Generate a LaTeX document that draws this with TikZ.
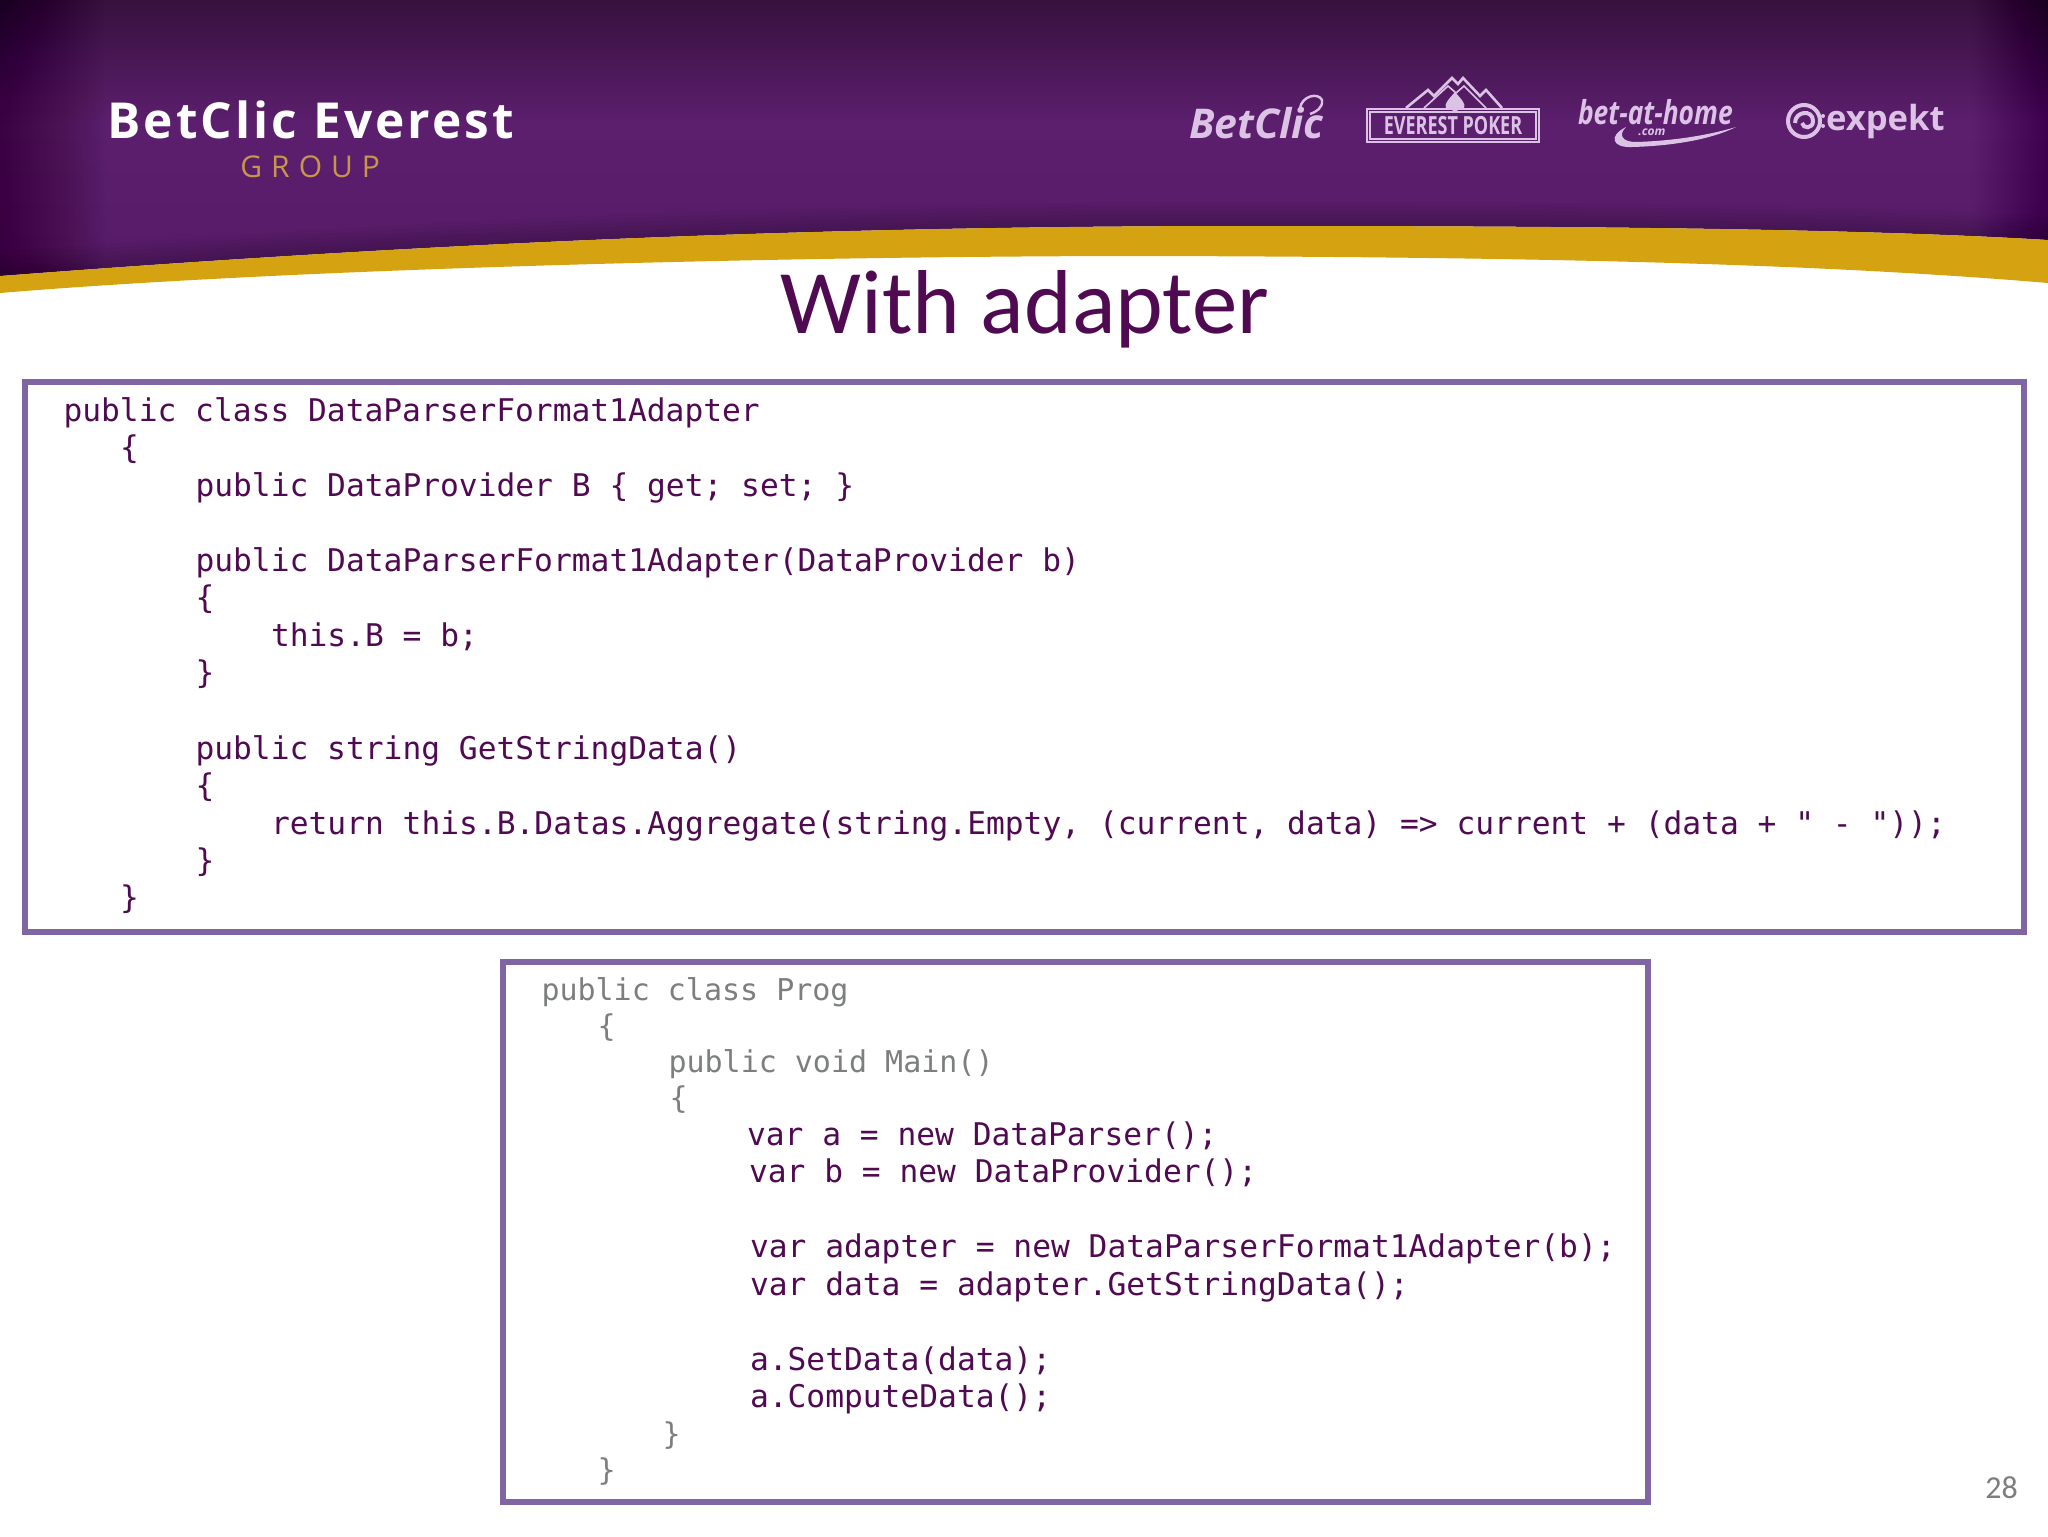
\documentclass[tikz,border=0pt]{standalone}
\usepackage{fontspec}
\setmainfont{Carlito}
\newfontfamily\codefont{DejaVu Sans Mono}
\newfontfamily\logofont[LetterSpace=6.2]{Open Sans}
\newfontfamily\groupfont[LetterSpace=30]{Open Sans}
\newfontfamily\brandfont{Open Sans}
\newfontfamily\evfont[FakeStretch=0.72]{Open Sans}
\newfontfamily\homefont[FakeStretch=0.8]{Open Sans}
\definecolor{purpdark}{HTML}{37113E}
\definecolor{purpmid}{HTML}{5C1F6E}
\definecolor{purplow}{HTML}{561A67}
\definecolor{goldband}{HTML}{D5A211}
\definecolor{groupgold}{HTML}{C8964A}
\definecolor{boxline}{HTML}{7F66A3}
\definecolor{codepurple}{HTML}{500A52}
\definecolor{codegrey}{HTML}{7C7F7E}
\definecolor{lavender}{HTML}{DCC3E6}
\tikzset{
  codeline/.style={anchor=base west,inner sep=0pt,outer sep=0pt,font=\codefont\fontsize{15.63pt}{18pt}\selectfont,text=codepurple},
  greyline/.style={anchor=base west,inner sep=0pt,outer sep=0pt,font=\codefont\fontsize{15pt}{18pt}\selectfont,text=codegrey},
  codebox/.style={draw=boxline,line width=3pt,fill=white},
  brand/.style={inner sep=0pt,outer sep=0pt,text=lavender}
}
\begin{document}
\begin{tikzpicture}[x=0.5pt,y=-0.5pt]
\useasboundingbox (0,0) rectangle (2048,1536);
\fill[white] (0,0) rectangle (2048,1536);
% header
\begin{scope}
\clip (0,0) -- (2048,0) -- (2048,240) .. controls (1850,228) and (1550,226) .. (1250,226) .. controls (800,226) and (420,244) .. (0,276) -- cycle;
\shade[top color=purpdark,bottom color=purpmid] (0,0) rectangle (2048,125);
\shade[top color=purpmid,bottom color=purplow] (0,125) rectangle (2048,280);
\foreach \i in {0,...,29}{
  \fill[black,opacity=0.012] (0,0) rectangle ({3.5*(\i+1)},280);
  \fill[black,opacity=0.006] (2048,0) rectangle ({2048-2.5*(\i+1)},280);
}
\foreach \w in {8,16,...,48}{
  \draw[black,opacity=0.03,line width=\w*0.5pt] (2048,240) .. controls (1850,228) and (1550,226) .. (1250,226) .. controls (800,226) and (420,244) .. (0,276);
}
\end{scope}
\fill[goldband] (0,276) .. controls (420,244) and (800,226) .. (1250,226) .. controls (1550,226) and (1850,228) .. (2048,240) -- (2048,283) .. controls (1800,262) and (1500,257) .. (1150,256) .. controls (800,256) and (300,268) .. (0,293) -- cycle;
% group logo
\node[inner sep=0pt,text=white,anchor=base west] (logo) at (107,139) {\logofont\fontsize{24.8pt}{28pt}\selectfont\bfseries BetClic Everest};
\node[inner sep=0pt,text=groupgold,anchor=base west] (group) at (240,177) {\groupfont\fontsize{15pt}{18pt}\selectfont GROUP};
% brand logos
\node[brand,anchor=base west] (betclic) at (1189,138) {\brandfont\fontsize{20.5pt}{24pt}\selectfont\bfseries\itshape BetClic};
\draw[lavender,line width=1.2pt] (1300,108) .. controls (1302,96) and (1318,92) .. (1322,100) .. controls (1323,108) and (1316,112) .. (1310,114);
% Everest Poker
\draw[lavender,line width=1.3pt] (1367,109) rectangle (1539,142);
\draw[lavender,line width=0.6pt] (1370,112) rectangle (1536,139);
\draw[lavender,line width=1.3pt] (1406,108) -- (1428,90) -- (1434,96) -- (1452,78) -- (1458,84) -- (1463,78) -- (1480,96) -- (1486,90) -- (1502,108);
\draw[lavender,line width=0.8pt] (1424,108) -- (1448,86) -- (1456,93) -- (1464,86) -- (1486,108);
\fill[lavender] (1455,92) .. controls (1462,100) and (1466,104) .. (1464,108) .. controls (1462,110) and (1458,110) .. (1456,107) -- (1458,112) -- (1452,112) -- (1454,107) .. controls (1452,110) and (1448,110) .. (1446,108) .. controls (1444,104) and (1448,100) .. (1455,92) -- cycle;
\node[brand,anchor=center] (everest) at (1453,126) {\evfont\fontsize{12.5pt}{14pt}\selectfont\bfseries EVEREST POKER};
% bet-at-home
\node[brand,anchor=base west] (bethome) at (1578,125) {\homefont\fontsize{16.5pt}{20pt}\selectfont\bfseries\itshape bet-at-home};
\node[brand,anchor=center] (dotcom) at (1652,132) {\brandfont\fontsize{6pt}{7pt}\selectfont\bfseries\itshape .com};
\fill[lavender] (1626,127) .. controls (1608,136) and (1612,148) .. (1632,147) .. controls (1670,146) and (1710,140) .. (1736,127) .. controls (1706,136) and (1670,141) .. (1636,142) .. controls (1622,142) and (1618,135) .. (1626,127) -- cycle;
% expekt
\draw[lavender,line width=2pt] (1804,121) circle (16);
\draw[lavender,line width=2pt] (1795,123) .. controls (1795,111) and (1813,109) .. (1813,121) .. controls (1813,129) and (1803,129) .. (1802,123);
\fill[lavender] (1823,116) circle (2) (1823,126) circle (2);
\node[brand,anchor=base west] (expekt) at (1826,131) {\brandfont\fontsize{17.3pt}{20pt}\selectfont\bfseries expekt};
% title
\node[inner sep=0pt,anchor=base,text=codepurple] (title) at (1025,333) {\fontsize{45.4pt}{50pt}\selectfont With adapter};
% boxes
\draw[codebox] (25,382) rectangle (2024,932);
\draw[codebox] (503,962) rectangle (1648,1502);
% first box
\node[codeline] (a0) at (63.5,421) {public class DataParserFormat1Adapter};
\node[codeline] (a1) at (120,458.6) {\{};
\node[codeline] (a2) at (195.5,496.2) {public DataProvider B \{ get; set; \}};
\node[codeline] (a4) at (195.5,571.4) {public DataParserFormat1Adapter(DataProvider b)};
\node[codeline] (a5) at (195.5,608) {\{};
\node[codeline] (a6) at (271,646.6) {this.B = b;};
\node[codeline] (a7) at (195.5,683.2) {\}};
\node[codeline] (a9) at (195.5,759.4) {public string GetStringData()};
\node[codeline] (a10) at (195.5,796) {\{};
\node[codeline] (a11) at (271,834.6) {return this.B.Datas.Aggregate(string.Empty, (current, data) => current + (data + " - "));};
\node[codeline] (a12) at (195.5,871.2) {\}};
\node[codeline] (a13) at (120,908.8) {\}};
% second box
\node[greyline] (b0) at (541.5,1000) {public class Prog};
\node[greyline] (b1) at (597.5,1036.5) {\{};
\node[greyline] (b2) at (668.5,1072) {public void Main()};
\node[greyline] (b3) at (669.5,1108) {\{};
\node[codeline] (b4) at (747,1145) {var a = new DataParser();};
\node[codeline] (b5) at (749,1182) {var b = new DataProvider();};
\node[codeline] (b7) at (750,1257.5) {var adapter = new DataParserFormat1Adapter(b);};
\node[codeline] (b8) at (750,1295) {var data = adapter.GetStringData();};
\node[codeline] (b10) at (750,1370.5) {a.SetData(data);};
\node[codeline] (b11) at (750,1407.5) {a.ComputeData();};
\node[greyline] (b12) at (662.5,1444) {\}};
\node[greyline] (b13) at (597.5,1480.6) {\}};
% page number
\node[inner sep=0pt,anchor=base west,text=codegrey] (page) at (1985,1498) {\fontsize{16pt}{18pt}\selectfont 28};
\end{tikzpicture}
\end{document}
